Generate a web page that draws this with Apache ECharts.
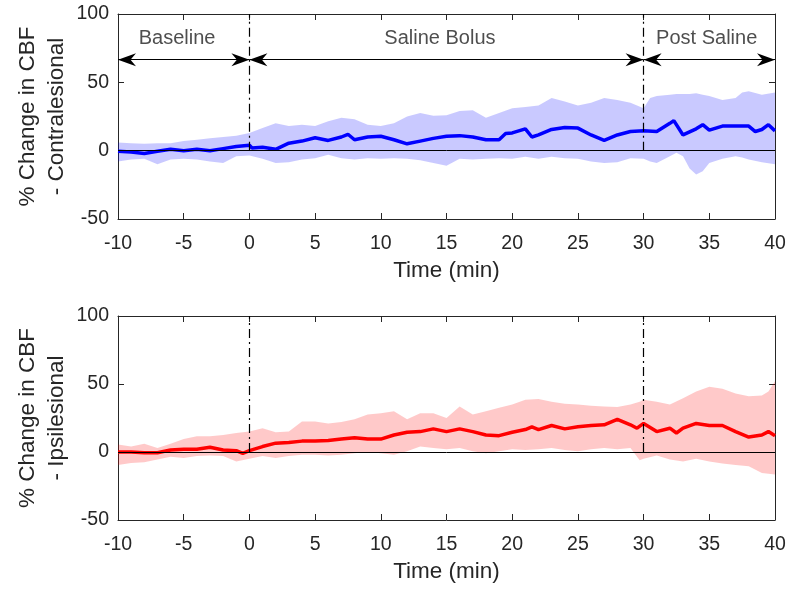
<!DOCTYPE html>
<html><head><meta charset="utf-8">
<script src="https://cdn.jsdelivr.net/npm/echarts@6/dist/echarts.min.js"></script>
<style>html,body{margin:0;padding:0;background:#fff}#c{width:800px;height:595px}</style>
</head><body><div id="c"></div>
<script>
// ---------- DATA ----------
var xTicksMin = -10, xTicksMax = 40, xTickStep = 5;
var yTicksMin = -50, yTicksMax = 100, yTickStep = 50;

// Top panel (contralesional)
var topMeanTime = [-10,-9,-8,-7,-6,-5,-4,-3,-2,-1,0,0.2,1,2,3,4,5,6,7,7.5,8,9,10,11,12,13,14,15,16,17,18,19,19.5,20,21,21.5,22,23,24,25,26,27,28,29,30,31,32,32.3,33,34,34.5,35,36,37,38,38.5,39,39.5,40];
var topMean     = [-0.5,-1,-2,-0.5,1,0,1,0,1.5,3,4,2,2.5,1,5.5,7,9.5,7.5,10,12,8,10,10.5,8,5,7,9,10.5,11,10,8,8,12.5,13,16,10,11.5,15.5,17,16.5,11.5,7.5,11.5,14,14.5,14,20,22,11.5,16,19,15,18,18,18,14,15.5,19,14.5];
var topBandTime = [-10,-9,-8,-7,-6,-5,-4,-3,-2,-1,0,1,2,3,4,5,6,7,8,9,10,11,12,13,14,15,16,17,18,19,20,21,22,23,24,25,26,27,28,29,30,30.5,31,32,32.5,33,33.5,34,34.5,35,36,37,37.5,38,39,40];
var topBandLow  = [-8,-6.5,-6,-10,-6.5,-6,-6.5,-8,-9,-4,-3.5,-6,-9,-8.5,-6.5,-5.5,-3,-5.5,-6.5,-5.5,-6,-5.5,-6,-7,-9,-11,-6,-6.5,-6,-5.5,-6,-4.5,-6,-4.5,-5.5,-6,-8,-9,-8.5,-5.5,-6,-8,-9,-4,-1.5,-4,-13,-17.5,-15,-9,-6,-4,-5,-6.5,-8.5,-10];
var topBandHigh = [6,5.5,5,5.5,5.5,7,8,9,10,11,13,16.5,20,18,19,18,21.5,24,23,19,18,20,25,27.5,25.5,26,29,29.5,24,27.5,31,32,33,38.5,36,33,35,38.5,37,35,31,38.5,40,41,41.5,41.5,41.5,42,41,40,37,38.5,42.5,43.5,41,42.5];

// Bottom panel (ipsilesional)
var botMeanTime = [-10,-9,-8,-7,-6,-5,-4,-3,-2,-1,-0.5,0,1,2,3,4,5,6,7,8,9,10,11,12,13,14,15,16,17,18,19,20,21,21.5,22,23,24,25,26,27,28,29,29.5,30,31,32,32.5,33,34,35,36,37,38,39,39.5,40];
var botMean     = [0,0,-0.5,-0.5,1.5,2,2,3.5,1.5,1,-1,1,4,6.5,7,8,8,8.5,9.5,10.5,9.5,9.5,12.5,14.5,15,17,15,17,15,12.5,12,14.5,16.5,18.5,16.5,19.5,17,18.5,19.5,20,24,20,17.5,21,15,17.5,14,17.5,21,19.5,19.5,15,11,12.5,15,12];
var botBandTime = [-10,-9,-8,-7,-6,-5,-4,-3,-2,-1,0,1,2,3,4,5,6,7,8,9,10,11,12,13,14,15,16,17,18,19,20,21,22,23,24,25,26,27,28,29,29.7,30,31,32,33,34,35,36,37,38,39,39.5,40];
var botBandLow  = [-9.5,-8,-7.5,-5.5,-3.5,-4.5,-3,-2.5,-3,-7,-5,-3,-4.5,-3,-2,-2,-2.5,-2,-1,0,-1,-2,0.5,4,3,2,3,0.5,-1,0.5,2,1.5,2,3,1.5,0.5,2,3,2,3,-6,-5,-2.5,-5.5,-7,-5,-7,-8.5,-9.5,-10.5,-15.5,-16,-16.5];
var botBandHigh = [5.5,4,6,3,6,9.5,11.5,11.5,12.5,14,15,17.5,14.5,15,22.5,22.5,21,22,24,27.5,28.5,30,24,28.5,28.5,25,33.5,27.5,30,32.5,35,38.5,39,37,35.5,35,34,33.5,33,35,37,38.5,37,35,39.5,44.5,48,46.5,43,41,41.5,44.5,52];

// Phase annotations (top panel)
var phaseNames  = ['Baseline','Saline Bolus','Post Saline'];
var phaseStart  = [-10, 0, 30];
var phaseEnd    = [0, 30, 40];
var phaseLabelX = [-5.5, 14.5, 34.8];
var arrowLevel  = 66.6;
var labelLevel  = 82;
var eventTimes  = [0, 30];

var yNames = ['% Change in CBF\n- Contralesional', '% Change in CBF\n- Ipsilesional'];
var xName = 'Time (min)';

// ---------- CHART ----------
var FONT = "'Liberation Sans', Arial, sans-serif";
var AX = '#262626';
function zip(a, b){ return a.map(function(v,i){ return [v, b[i]]; }); }

var grids = [
  {left:118, right:25, top:14, height:205},
  {left:118, right:25, top:316, height:204}
];
var xAxes = [], yAxes = [], series = [];
[0,1].forEach(function(g){
  var baseX = {type:'value', gridIndex:g, min:xTicksMin, max:xTicksMax, interval:xTickStep,
    axisLine:{onZero:false, lineStyle:{color:AX,width:1}}, axisTick:{inside:true,length:6,lineStyle:{color:AX}},
    splitLine:{show:false}};
  xAxes.push(Object.assign({}, baseX, {position:'bottom',
    axisLabel:{fontFamily:FONT,fontSize:19.5,color:AX,margin:15},
    name:xName, nameLocation:'middle', nameGap:40, nameMoveOverlap:false,
    nameTextStyle:{fontFamily:FONT,fontSize:22.5,color:AX}}));
  xAxes.push(Object.assign({}, baseX, {position:'top', axisLabel:{show:false}}));
  var baseY = {type:'value', gridIndex:g, min:yTicksMin, max:yTicksMax, interval:yTickStep,
    axisLine:{show:true,onZero:false,lineStyle:{color:AX,width:1}}, axisTick:{show:true,inside:true,length:6,lineStyle:{color:AX}},
    splitLine:{show:false}};
  yAxes.push(Object.assign({}, baseY, {position:'left',
    axisLabel:{fontFamily:FONT,fontSize:19.5,color:AX,margin:9},
    name:yNames[g], nameLocation:'middle', nameGap:47, nameRotate:90, nameMoveOverlap:false,
    nameTextStyle:{fontFamily:FONT,fontSize:22.5,color:AX,lineHeight:29}}));
  yAxes.push(Object.assign({}, baseY, {position:'right', axisLabel:{show:false}}));
});

var panels = [
  {bt:topBandTime, lo:topBandLow, hi:topBandHigh, mt:topMeanTime, m:topMean, line:'#0000ff', fill:'rgba(0,0,255,0.21)'},
  {bt:botBandTime, lo:botBandLow, hi:botBandHigh, mt:botMeanTime, m:botMean, line:'#ff0000', fill:'rgba(255,0,0,0.21)'}
];
panels.forEach(function(p, g){
  var xi = g*2, yi = g*2;
  series.push({type:'custom', xAxisIndex:xi, yAxisIndex:yi, data:[[xTicksMin, 0]], z:1, silent:true,
    renderItem:function(params, api){
      var pts = [];
      for (var i = 0; i < p.bt.length; i++) pts.push(api.coord([p.bt[i], p.hi[i]]));
      for (var j = p.bt.length - 1; j >= 0; j--) pts.push(api.coord([p.bt[j], p.lo[j]]));
      return {type:'polygon', shape:{points:pts}, style:{fill:p.fill, stroke:null}};
    }});
  var ml = [
    [{coord:[xTicksMin,0]},{coord:[xTicksMax,0]}]
  ];
  eventTimes.forEach(function(t){
    ml.push([{coord:[t,0], lineStyle:{type:[9,4,2,4],color:'#000',width:1.2}},{coord:[t,yTicksMax]}]);
  });
  series.push({type:'line', xAxisIndex:xi, yAxisIndex:yi, data:[], z:3, silent:true,
    markLine:{silent:true, symbol:['none','none'], animation:false, label:{show:false},
      lineStyle:{color:'#000', type:'solid', width:1}, data:ml}});
  series.push({type:'line', xAxisIndex:xi, yAxisIndex:yi, data:zip(p.mt, p.m), symbol:'none',
    lineStyle:{color:p.line, width:3.5}, z:4, silent:true});
});

// arrows + labels on top panel
var arrowLines = phaseStart.map(function(s,i){
  return [{coord:[s, arrowLevel]},{coord:[phaseEnd[i], arrowLevel]}];
});
series.push({type:'line', xAxisIndex:0, yAxisIndex:0, data:[], z:5, silent:true,
  markLine:{silent:true, animation:false, symbol:['none','none'],
    label:{show:false}, lineStyle:{color:'#000', type:'solid', width:1}, data:arrowLines}});
var heads = [];
phaseStart.forEach(function(s,i){
  heads.push({value:[s, arrowLevel], symbolRotate:90, symbolOffset:[9,0]});
  heads.push({value:[phaseEnd[i], arrowLevel], symbolRotate:-90, symbolOffset:[-9,0]});
});
series.push({type:'scatter', xAxisIndex:0, yAxisIndex:0, z:6, silent:true, data:heads,
  symbol:'path://M0,0 L6.5,18 L0,12.5 L-6.5,18 Z', symbolSize:[13,18],
  itemStyle:{color:'#000', opacity:1}});
series.push({type:'scatter', xAxisIndex:0, yAxisIndex:0, symbolSize:0, z:5, silent:true,
  data:phaseNames.map(function(n,i){ return [phaseLabelX[i], labelLevel, n]; }),
  label:{show:true, position:'inside', formatter:function(d){return d.value[2];},
    fontFamily:FONT, fontSize:20, color:'#222'}});

var chart = echarts.init(document.getElementById('c'), null, {renderer:'canvas'});
chart.setOption({animation:false, backgroundColor:'#fff', grid:grids, xAxis:xAxes, yAxis:yAxes, series:series});
</script></body></html>
